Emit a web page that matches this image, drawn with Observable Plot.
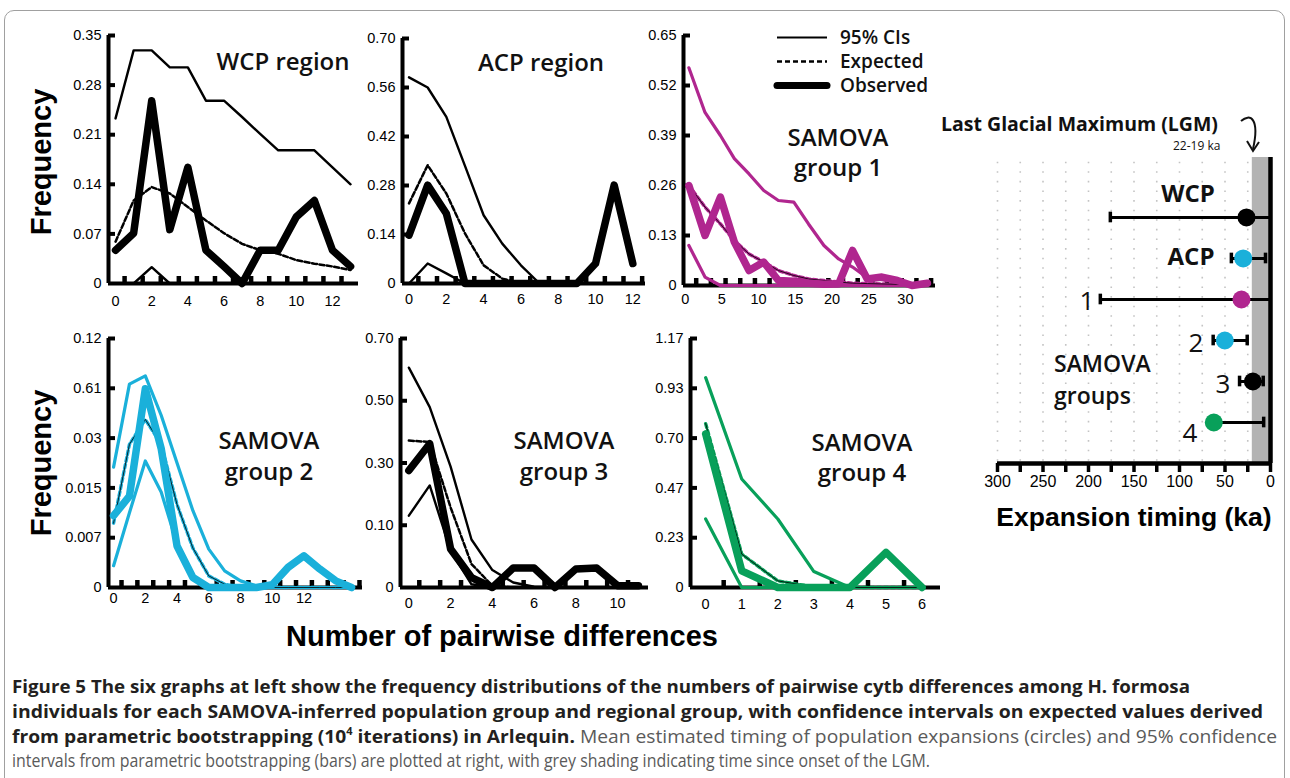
<!DOCTYPE html>
<html>
<head>
<meta charset="utf-8">
<script src="https://cdn.jsdelivr.net/npm/d3@7"></script>
<script src="https://cdn.jsdelivr.net/npm/@observablehq/plot@0.6"></script>
<style>
  html, body { margin: 0; padding: 0; background: #fff; }
  body { width: 1290px; height: 778px; overflow: hidden; position: relative; font-family: "Liberation Sans", Arial, sans-serif; }
  #border { position: absolute; left: 4px; top: 10px; width: 1281px; height: 820px; border: 1px solid #a0a0a0; border-radius: 10px; box-sizing: border-box; }
  .abs { position: absolute; white-space: nowrap; line-height: 1; }
  .title { font-family: "Open Sans", sans-serif; font-weight: 600; font-size: 24px; color: #111; }
  .capline { position: absolute; left: 12px; white-space: nowrap; font-family: "Open Sans", sans-serif; font-size: 17.5px; line-height: 18px; transform-origin: 0 50%; }
  .capline b { font-weight: 700; color: #231f20; }
  .capline span.r { font-weight: 400; color: #5a5a5a; }
  sup { font-size: 10px; line-height: 0; position: relative; top: -1px; }
</style>
</head>
<body>
<div id="border"></div>
<script>
// ---------------- DATA ----------------
const COLORS = { black: "#000000", cyan: "#1ab0da", magenta: "#b0268f", green: "#08a05a" };

// WCP region
const wcpX        = [0,1,2,3,4,5,6,7,8,9,10,11,12,13];
const wcpUpper    = [0.233,0.329,0.329,0.305,0.305,0.258,0.258,0.235,0.211,0.188,0.188,0.188,0.164,0.140];
const wcpLower    = [0,0,0.023,0,0,0,0,0,0,0,0,0,0,0];
const wcpExpected = [0.059,0.117,0.136,0.127,0.108,0.089,0.071,0.056,0.047,0.042,0.033,0.028,0.024,0.019];
const wcpObserved = [0.047,0.071,0.258,0.076,0.164,0.047,0.024,0,0.047,0.047,0.094,0.117,0.047,0.024];
const wcpYTicks   = [0,0.07,0.14,0.21,0.28,0.35];
const wcpYLabels  = ["0","0.07","0.14","0.21","0.28","0.35"];
const wcpXLabels  = [0,2,4,6,8,10,12];

// ACP region
const acpX        = [0,1,2,3,4,5,6,7,8,9,10,11,12];
const acpUpper    = [0.589,0.560,0.476,0.336,0.195,0.114,0.052,0,0,0,0,0,0];
const acpLower    = [0,0.057,0.029,0,0,0,0,0,0,0,0,0,0];
const acpExpected = [0.229,0.338,0.257,0.143,0.052,0.014,0,0,0,0,0,0,0];
const acpObserved = [0.138,0.281,0.200,0,0,0,0,0,0,0,0.057,0.281,0.057];
const acpYTicks   = [0,0.14,0.28,0.42,0.56,0.70];
const acpYLabels  = ["0","0.14","0.28","0.42","0.56","0.70"];
const acpXLabels  = [0,2,4,6,8,10,12];

// SAMOVA group 1
const g1X        = [0.5,2.7,4.8,6.7,8.7,10.7,12.7,14.8,16.8,18.9,20.9,22.8,24.8,26.8,28.9,30.9,33];
const g1Upper    = [0.566,0.450,0.390,0.330,0.290,0.247,0.221,0.217,0.160,0.104,0.069,0.048,0.020,0.015,0.010,0.005,0.005];
const g1Lower    = [0.104,0.022,0,0,0,0,0,0,0,0,0,0,0,0,0,0,0];
const g1Expected = [0.260,0.204,0.160,0.117,0.082,0.061,0.039,0.026,0.017,0.013,0.009,0.006,0.005,0.004,0.003,0.002,0.002];
const g1Observed = [0.260,0.130,0.230,0.113,0.039,0.061,0.013,0.011,0.006,0.003,0.004,0.091,0.017,0.022,0.013,0,0.006];
const g1YTicks   = [0,0.13,0.26,0.39,0.52,0.65];
const g1YLabels  = ["0","0.13","0.26","0.39","0.52","0.65"];
const g1XLabels  = [0,5,10,15,20,25,30];

// SAMOVA group 2 (tick labels as printed)
const g2X        = [0,1,2,3,4,5,6,7,8,9,10,11,12,13,14,15];
const g2Upper    = [0.058,0.098,0.102,0.083,0.060,0.037,0.0185,0.008,0.0032,0.0008,0,0,0,0,0,0];
const g2Lower    = [0.0105,0.036,0.061,0.046,0.021,0.0048,0,0,0,0,0,0,0,0,0,0];
const g2Expected = [0.031,0.069,0.081,0.069,0.040,0.019,0.0056,0.0016,0,0,0,0,0,0,0,0];
const g2Observed = [0.0346,0.044,0.0958,0.067,0.020,0.0048,0,0,0,0,0.0013,0.0097,0.0153,0.0089,0.0032,0];
const g2YTicks   = [0,0.024,0.048,0.072,0.096,0.12];
const g2YLabels  = ["0","0.007","0.015","0.03","0.61","0.12"];
const g2XLabels  = [0,2,4,6,8,10,12];

// SAMOVA group 3 (tick labels as printed)
const g3X        = [0,1,2,3,4,5,6,7,8,9,10,11];
const g3Upper    = [0.618,0.507,0.340,0.135,0.049,0.014,0.002,0,0,0,0,0];
const g3Lower    = [0.202,0.287,0.103,0.009,0,0,0,0,0,0,0,0];
const g3Expected = [0.413,0.409,0.225,0.066,0.005,0,0,0,0,0,0,0];
const g3Observed = [0.329,0.404,0.108,0.028,0,0.0545,0.0545,0,0.052,0.0545,0.005,0.005];
const g3YTicks   = [0,0.175,0.35,0.525,0.70];
const g3YLabels  = ["0","0.10","0.30","0.50","0.70"];
const g3XLabels  = [0,2,4,6,8,10];

// SAMOVA group 4
const g4X        = [0,1,2,3,4,5,6];
const g4Upper    = [0.986,0.510,0.322,0.075,0,0,0];
const g4Lower    = [0.322,0,0,0,0,0,0];
const g4Expected = [0.770,0.157,0.031,0.003,0,0,0];
const g4Observed = [0.722,0.0785,0,0,0,0.165,0];
const g4YTicks   = [0,0.234,0.468,0.702,0.936,1.17];
const g4YLabels  = ["0","0.23","0.47","0.70","0.93","1.17"];
const g4XLabels  = [0,1,2,3,4,5,6];

// Expansion timing (ka)
const groups    = ["WCP","ACP","1","2","3","4"];
const meanKa    = [26.4, 30, 31.9, 50.2, 19.4, 62.3];
const ciOldKa   = [176, 43, 187, 63, 34, 66];
const ciYoungKa = [0, 5.5, 0, 25.6, 8, 7.5];
const groupColors = [COLORS.black, COLORS.cyan, COLORS.magenta, COLORS.cyan, COLORS.black, COLORS.green];
const lgmKa     = [0, 20];
const kaTicks   = [0,25,50,75,100,125,150,175,200,225,250,275,300];
const kaLabels  = [0,50,100,150,200,250,300];

const legendItems = ["95% CIs","Expected","Observed"];

// ---------------- HELPERS ----------------
function label(txt, x, y, cls, style = {}, anchor = "middle") {
  const d = document.createElement("div");
  d.className = "abs " + (cls || "");
  d.textContent = txt;
  Object.assign(d.style, style);
  d.style.left = x + "px";
  d.style.top = y + "px";
  const tx = anchor === "middle" ? "-50%" : anchor === "start" ? "0" : "-100%";
  d.style.transform = `translate(${tx},-50%)` + (style.extraTransform || "");
  document.body.appendChild(d);
  return d;
}

function place(svg, left, top) {
  svg.style.position = "absolute";
  svg.style.left = left + "px";
  svg.style.top = top + "px";
  document.body.appendChild(svg);
}

function panel(p) {
  const ML = 60, MR = 12, MT = 8, MB = 36;
  const fw = p.frame.right - p.frame.left, fh = p.frame.bottom - p.frame.top;
  const pxPerX = fw / (p.xDomain[1] - p.xDomain[0]);
  const rows = p.x.map((x, i) => ({ x, upper: p.upper[i], lower: p.lower[i], expected: p.expected[i], observed: p.observed[i] }));
  const col = p.color;
  const isBlack = col === COLORS.black;
  const x0 = p.xDomain[0];
  const tickLenY = p.yMax * 7 / fh;
  const tickLenX = 7 / pxPerX;
  const ciW = isBlack ? 2.4 : 3.2;
  const marks = [
    Plot.ruleX([x0], { strokeWidth: 4 }),
    Plot.ruleY([0], { strokeWidth: 4 }),
    Plot.ruleX(p.xTickMarks, { x: d => d, y1: 0, y2: tickLenY, strokeWidth: 4.5 }),
    Plot.ruleY(p.yTicks.slice(1), { y: d => d, x1: x0, x2: x0 + tickLenX, strokeWidth: 4 }),
    Plot.axisX({ ticks: p.xLabels, tickSize: 0, tickPadding: p.xPad, label: null, tickFormat: d => String(d) }),
    Plot.axisY({ ticks: p.yTicks, tickSize: 0, tickPadding: 7, label: null,
      tickFormat: d => p.yLabels[p.yTicks.indexOf(d)] }),
    Plot.line(rows, { x: "x", y: "upper", stroke: col, strokeWidth: ciW, strokeLinejoin: "round" }),
    Plot.line(rows, { x: "x", y: "lower", stroke: col, strokeWidth: ciW, strokeLinejoin: "round" })
  ];
  if (isBlack) {
    marks.push(Plot.line(rows, { x: "x", y: "expected", stroke: "#000", strokeWidth: 2.5, strokeDasharray: "5,2.5" }));
  } else {
    marks.push(Plot.line(rows, { x: "x", y: "expected", stroke: col, strokeWidth: 3.4, strokeDasharray: "4,3" }));
    marks.push(Plot.line(rows, { x: "x", y: "expected", stroke: "#000", strokeWidth: 0.8 }));
  }
  marks.push(Plot.line(rows, { x: "x", y: "observed", stroke: col, strokeWidth: 7.5, strokeLinejoin: "round", strokeLinecap: "round" }));
  const svg = Plot.plot({
    width: ML + fw + MR, height: MT + fh + MB,
    marginLeft: ML, marginRight: MR, marginTop: MT, marginBottom: MB,
    x: { domain: p.xDomain, label: null },
    y: { domain: [0, p.yMax], label: null },
    style: { fontFamily: "'Liberation Sans', Arial, sans-serif", fontSize: "14.5px", overflow: "visible", background: "transparent", color: "#000" },
    marks
  });
  place(svg, p.frame.left - ML, p.frame.top - MT);
}

const panels = [
  { color: COLORS.black, x: wcpX, upper: wcpUpper, lower: wcpLower, expected: wcpExpected, observed: wcpObserved,
    yTicks: wcpYTicks, yLabels: wcpYLabels, xLabels: wcpXLabels, xTickMarks: d3.range(0.5, 13.4, 1),
    frame: { left: 108, right: 358, top: 35, bottom: 283 }, xDomain: [-0.39, 13.44], yMax: 0.35, xPad: 12 },
  { color: COLORS.black, x: acpX, upper: acpUpper, lower: acpLower, expected: acpExpected, observed: acpObserved,
    yTicks: acpYTicks, yLabels: acpYLabels, xLabels: acpXLabels, xTickMarks: d3.range(0.5, 12.6, 1),
    frame: { left: 402, right: 645, top: 38, bottom: 283 }, xDomain: [-0.35, 12.68], yMax: 0.70, xPad: 10 },
  { color: COLORS.magenta, x: g1X, upper: g1Upper, lower: g1Lower, expected: g1Expected, observed: g1Observed,
    yTicks: g1YTicks, yLabels: g1YLabels, xLabels: g1XLabels, xTickMarks: d3.range(1.5, 34, 2),
    frame: { left: 683, right: 935, top: 35, bottom: 285 }, xDomain: [-0.23, 34.1], yMax: 0.65, xPad: 8 },
  { color: COLORS.cyan, x: g2X, upper: g2Upper, lower: g2Lower, expected: g2Expected, observed: g2Observed,
    yTicks: g2YTicks, yLabels: g2YLabels, xLabels: g2XLabels, xTickMarks: d3.range(0.5, 15.6, 1),
    frame: { left: 108, right: 362, top: 338, bottom: 587 }, xDomain: [-0.32, 15.69], yMax: 0.12, xPad: 5 },
  { color: COLORS.black, x: g3X, upper: g3Upper, lower: g3Lower, expected: g3Expected, observed: g3Observed,
    yTicks: g3YTicks, yLabels: g3YLabels, xLabels: g3XLabels, xTickMarks: d3.range(0.5, 11.4, 1),
    frame: { left: 400, right: 648, top: 338, bottom: 587 }, xDomain: [-0.4, 11.48], yMax: 0.70, xPad: 10 },
  { color: COLORS.green, x: g4X, upper: g4Upper, lower: g4Lower, expected: g4Expected, observed: g4Observed,
    yTicks: g4YTicks, yLabels: g4YLabels, xLabels: g4XLabels, xTickMarks: d3.range(0.5, 6, 1),
    frame: { left: 690, right: 940, top: 338, bottom: 587 }, xDomain: [-0.42, 6.51], yMax: 1.17, xPad: 11 }
];
panels.forEach(panel);

// Panel titles
label("WCP region", 283, 61, "title");
label("ACP region", 541, 62, "title");
label("SAMOVA", 838, 137, "title");
label("group 1", 838, 167, "title");
label("SAMOVA", 269, 440, "title");
label("group 2", 269, 471, "title");
label("SAMOVA", 564, 440, "title");
label("group 3", 564, 471, "title");
label("SAMOVA", 862, 442, "title");
label("group 4", 862, 472, "title");

// Axis titles
const fq = { fontWeight: "700", fontSize: "29px", fontFamily: "'Liberation Sans', Arial, sans-serif" };
label("Frequency", 41, 162, "", Object.assign({ extraTransform: " rotate(-90deg)" }, fq));
label("Frequency", 41, 463, "", Object.assign({ extraTransform: " rotate(-90deg)" }, fq));
label("Number of pairwise differences", 502, 636, "", { fontWeight: "700", fontSize: "29px" });

// Legend
{
  const lg = Plot.plot({
    width: 64, height: 72, marginLeft: 7, marginRight: 7, marginTop: 12, marginBottom: 12,
    x: { domain: [0, 1], axis: null },
    y: { type: "point", domain: legendItems, padding: 0, axis: null },
    style: { overflow: "visible", background: "transparent" },
    marks: [
      Plot.ruleY([legendItems[0]], { y: d => d, x1: 0, x2: 1, strokeWidth: 2.2 }),
      Plot.ruleY([legendItems[1]], { y: d => d, x1: 0, x2: 1, strokeWidth: 2.5, strokeDasharray: "5,3" }),
      Plot.ruleY([legendItems[2]], { y: d => d, x1: 0, x2: 1, strokeWidth: 7, strokeLinecap: "round" })
    ]
  });
  place(lg, 770, 25);
  const lst = { fontFamily: "'Open Sans', sans-serif", fontWeight: "600", fontSize: "19px", color: "#111" };
  legendItems.forEach((t, i) => label(t, 840, 37 + 24 * i, "", lst, "start"));
}

// Expansion timing panel
{
  const rows = groups.map((g, i) => ({ g, i, mean: meanKa[i], old: ciOldKa[i], young: ciYoungKa[i], color: groupColors[i] }));
  const caps = [];
  rows.forEach(r => { caps.push({ x: r.old, i: r.i }); if (r.young > 0) caps.push({ x: r.young, i: r.i }); });
  const yDom = [6.0, -1.463];
  const rp = Plot.plot({
    width: 335, height: 350, marginLeft: 47, marginRight: 15, marginTop: 7, marginBottom: 37,
    x: { domain: [300, 0], label: null },
    y: { domain: yDom, label: null, axis: null },
    color: { type: "identity" },
    style: { fontFamily: "'Liberation Sans', Arial, sans-serif", fontSize: "16px", overflow: "visible", background: "transparent", color: "#000" },
    marks: [
      Plot.ruleX(kaTicks.filter(d => d > 0), { x: d => d, y1: -1.35, y2: 5.95, stroke: "#c4c4c4", strokeWidth: 1.6, strokeDasharray: "1.6,8" }),
      Plot.rect([lgmKa], { x1: d => d[0], x2: d => d[1], y1: yDom[0], y2: yDom[1], fill: "#b3b3b3" }),
      Plot.ruleX([0], { strokeWidth: 4.5 }),
      Plot.ruleY([yDom[0]], { strokeWidth: 4.5 }),
      Plot.axisX({ ticks: kaTicks, tickSize: 9, tickPadding: 3, strokeWidth: 3.5, label: null,
        tickFormat: d => kaLabels.includes(d) ? String(d) : "" }),
      Plot.ruleY(rows, { y: "i", x1: "old", x2: "young", strokeWidth: 3 }),
      Plot.ruleX(caps, { x: "x", y1: d => d.i - 0.13, y2: d => d.i + 0.13, strokeWidth: 3.5 }),
      Plot.dot(rows, { x: "mean", y: "i", r: 9, fill: "color", stroke: null })
    ]
  });
  place(rp, 950, 150);

  const bold = { fontFamily: "'Open Sans', sans-serif", fontWeight: "700", fontSize: "24px", color: "#111" };
  const reg = { fontFamily: "'Open Sans', sans-serif", fontWeight: "400", fontSize: "26px", color: "#111" };
  label("WCP", 1188, 193, "", bold);
  label("ACP", 1191, 256, "", bold);
  label("1", 1087, 300, "", reg);
  label("2", 1196, 342, "", reg);
  label("3", 1223, 383, "", reg);
  label("4", 1190, 432, "", reg);
  const sg = { fontFamily: "'Open Sans', sans-serif", fontWeight: "600", fontSize: "23px", color: "#111" };
  label("SAMOVA", 1054, 363, "", sg, "start");
  label("groups", 1054, 395, "", sg, "start");
  label("Last Glacial Maximum (LGM)", 941, 124, "", { fontFamily: "'Open Sans', sans-serif", fontWeight: "700", fontSize: "19.5px", color: "#111" }, "start");
  label("22-19 ka", 1173, 146, "", { fontFamily: "'Open Sans', sans-serif", fontWeight: "400", fontSize: "12px", color: "#111" }, "start");
  label("Expansion timing (ka)", 1134, 517, "", { fontWeight: "700", fontSize: "26.5px" });

  // curved arrow pointing to the LGM shading
  const ns = "http://www.w3.org/2000/svg";
  const a = document.createElementNS(ns, "svg");
  a.setAttribute("width", "40"); a.setAttribute("height", "50");
  a.style.position = "absolute"; a.style.left = "1232px"; a.style.top = "108px"; a.style.overflow = "visible";
  a.innerHTML = '<path d="M9,13 C18,5 28,10 21,41" fill="none" stroke="#111" stroke-width="2"/>' +
                '<path d="M15,33 L21,43 L27,34" fill="none" stroke="#111" stroke-width="2"/>';
  document.body.appendChild(a);
}

// Caption
{
  const lines = [
    { top: 677, w: 1178, html: '<b>Figure 5 The six graphs at left show the frequency distributions of the numbers of pairwise cytb differences among H. formosa</b>' },
    { top: 702, w: 1251, html: '<b>individuals for each SAMOVA-inferred population group and regional group, with confidence intervals on expected values derived</b>' },
    { top: 727, w: 1265, html: '<b>from parametric bootstrapping (10<sup>4</sup> iterations) in Arlequin.</b><span class="r"> Mean estimated timing of population expansions (circles) and 95% confidence</span>' },
    { top: 751, w: 918, html: '<span class="r">intervals from parametric bootstrapping (bars) are plotted at right, with grey shading indicating time since onset of the LGM.</span>' }
  ];
  lines.forEach(l => {
    const d = document.createElement("div");
    d.className = "capline";
    d.style.top = l.top + "px";
    d.innerHTML = l.html;
    document.body.appendChild(d);
    const w = d.getBoundingClientRect().width;
    d.style.transform = `scaleX(${l.w / w})`;
  });
}
</script>
</body>
</html>
